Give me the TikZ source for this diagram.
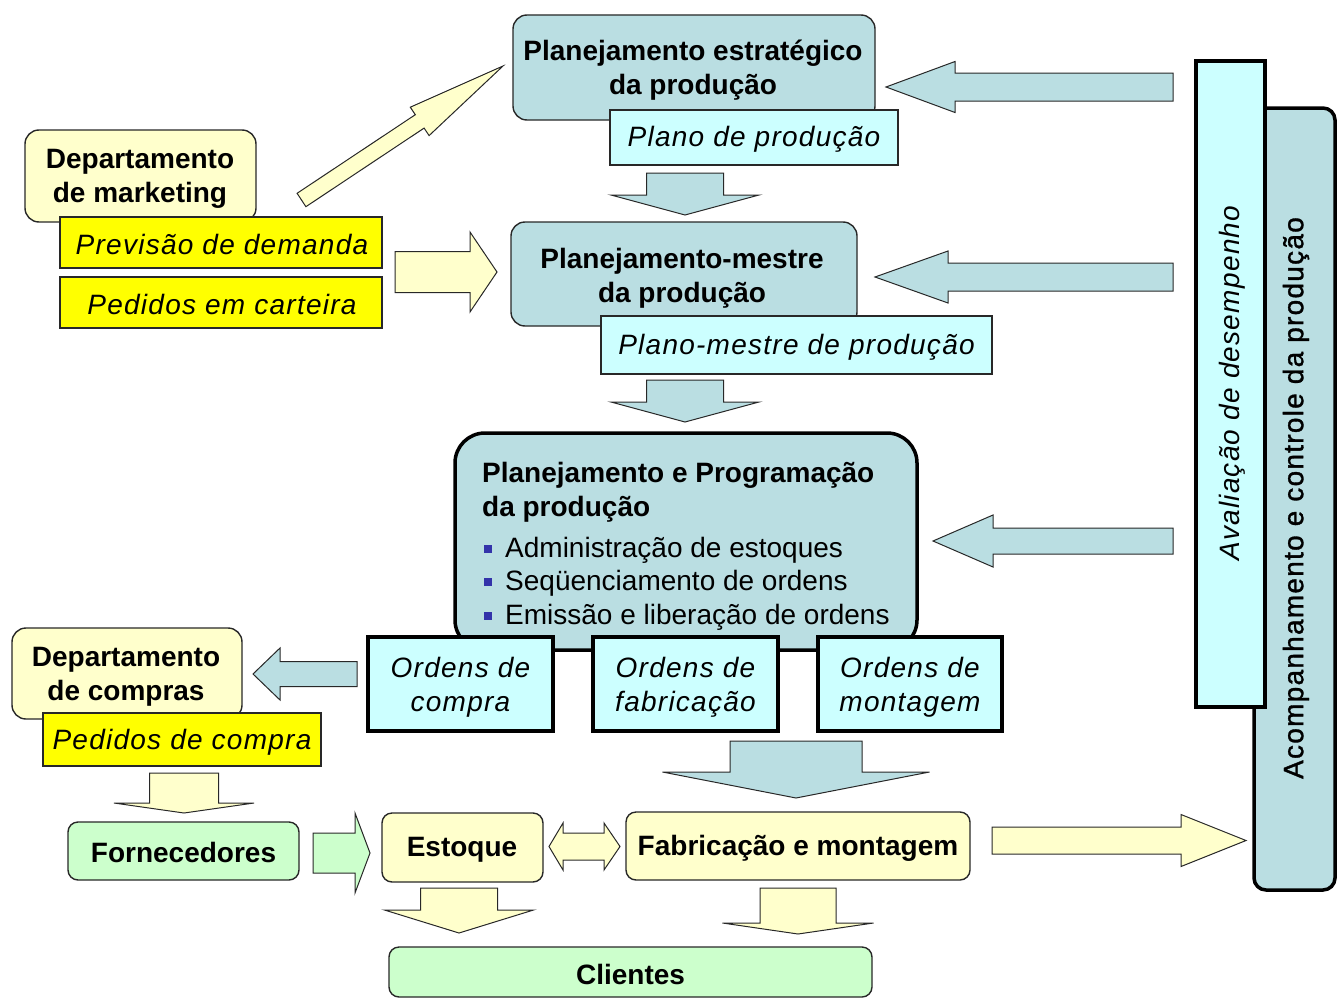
\documentclass[tikz,border=0pt]{standalone}
\usepackage{fontspec}
\setmainfont{Liberation Sans}
\newfontfamily\spfont[LetterSpace=4.5]{Liberation Sans}
\newfontfamily\medfont[LetterSpace=4.5,FakeBold=1.2]{Liberation Sans}
\newcommand\itx{\spfont\itshape}
\definecolor{bluegray}{RGB}{186,222,226}
\definecolor{cyanbox}{RGB}{204,255,255}
\definecolor{lyellow}{RGB}{255,255,204}
\definecolor{yell}{RGB}{255,255,0}
\definecolor{lgreen}{RGB}{204,255,204}
\definecolor{bulletc}{RGB}{51,51,170}
\definecolor{edge}{RGB}{40,40,40}
\newcommand\myharrow[7]{\draw[#1] (#2,#5-#6) -- (#3,#5-#6) -- (#3,#5-#7) -- (#4,#5) -- (#3,#5+#7) -- (#3,#5+#6) -- (#2,#5+#6) -- cycle;}
\newcommand\myvarrow[7]{\draw[#1] (#5-#6,#2) -- (#5-#6,#3) -- (#5-#7,#3) -- (#5,#4) -- (#5+#7,#3) -- (#5+#6,#3) -- (#5+#6,#2) -- cycle;}
\tikzset{
  thinbox/.style={draw=edge, line width=1.4pt, inner sep=0pt, align=center},
  thickbox/.style={draw=black, line width=3.5pt, inner sep=0pt, align=center},
  rbox/.style={thinbox, rounded corners=14pt},
  barrow/.style={draw=edge, line width=1pt, fill=bluegray, line join=miter},
  yarrow/.style={draw=edge, line width=1pt, fill=lyellow, line join=miter},
  garrow/.style={draw=edge, line width=1pt, fill=lgreen, line join=miter},
  bul/.style={fill=bulletc, minimum size=8pt, inner sep=0pt},
  txt/.style={inner sep=0pt, anchor=base west},
  lbl/.style={inner sep=0pt, align=center},
}
\begin{document}
\begin{tikzpicture}[x=1pt,y=-1pt, font=\fontsize{28}{34}\selectfont]
\useasboundingbox (0,0) rectangle (1340,998);
\fill[white] (0,0) rectangle (1340,998);

% right side bars
\node[thickbox, fill=bluegray, rounded corners=12pt, rotate=90, minimum width=782pt, minimum height=81pt] (acomp) at (1294.5,499) {};
\node[lbl, rotate=90] (acompt) at (1296,498) {\medfont Acompanhamento e controle da produção};
\node[thickbox, fill=cyanbox, rotate=90, minimum width=646pt, minimum height=69pt] (aval) at (1230.5,384) {};
\node[lbl, rotate=90] (avalt) at (1232,383) {\itx Avaliação de desempenho};

% strategic planning
\node[rbox, fill=bluegray, minimum width=362pt, minimum height=105pt] (pe) at (694,67.5) {};
\node[lbl] (pet) at (693,70) {\bfseries Planejamento estratégico\\\bfseries da produção};
\node[thinbox, fill=cyanbox, minimum width=288pt, minimum height=55pt] (plano) at (754,137.5) {};
\node[lbl] (planot) at (754,139) {\itx Plano de produção};

% master planning
\node[rbox, fill=bluegray, minimum width=346pt, minimum height=104pt] (pm) at (684,274) {};
\node[lbl] (pmt) at (682,278) {\bfseries Planejamento-mestre\\\bfseries da produção};
\node[thinbox, fill=cyanbox, minimum width=391pt, minimum height=58pt] (planom) at (796.5,345) {};
\node[lbl] (planomt) at (796.5,347) {\itx Plano-mestre de produção};

% programming
\node[thickbox, fill=bluegray, rounded corners=30pt, minimum width=462pt, minimum height=217pt] (pp) at (686,541.5) {};
\node[txt] (ppt1) at (482,482) {\bfseries Planejamento e Programação};
\node[txt] (ppt2) at (482,516) {\bfseries da produção};
\node[bul] (bu1) at (488,549) {};
\node[bul] (bu2) at (488,582) {};
\node[bul] (bu3) at (488,616) {};
\node[txt] (b1) at (505,557) {Administração de estoques};
\node[txt] (b2) at (505,590) {Seqüenciamento de ordens};
\node[txt] (b3) at (505,624) {Emissão e liberação de ordens};

% orders
\node[thickbox, fill=cyanbox, minimum width=185pt, minimum height=94pt] (oc) at (460.5,684) {};
\node[lbl] (oct) at (460.5,687) {\itx Ordens de\\\itx compra};
\node[thickbox, fill=cyanbox, minimum width=185pt, minimum height=94pt] (of) at (685.5,684) {};
\node[lbl] (oft) at (685.5,687) {\itx Ordens de\\\itx fabricação};
\node[thickbox, fill=cyanbox, minimum width=184pt, minimum height=94pt] (om) at (910,684) {};
\node[lbl] (omt) at (910,687) {\itx Ordens de\\\itx montagem};

% marketing
\node[rbox, fill=lyellow, minimum width=231pt, minimum height=92pt] (dm) at (140.5,176) {};
\node[lbl] (dmt) at (140,179) {\bfseries Departamento\\\bfseries de marketing};
\node[thinbox, fill=yell, minimum width=322pt, minimum height=51pt] (prev) at (221,242.5) {};
\node[lbl] (prevt) at (222,244) {\itx Previsão de demanda};
\node[thinbox, fill=yell, minimum width=322pt, minimum height=51pt] (ped) at (221,302.5) {};
\node[lbl] (pedt) at (222,304) {\itx Pedidos em carteira};

% purchasing
\node[rbox, fill=lyellow, minimum width=230pt, minimum height=91pt] (dc) at (127,673.5) {};
\node[lbl] (dct) at (126,677) {\bfseries Departamento\\\bfseries de compras};
\node[thinbox, fill=yell, minimum width=278pt, minimum height=53pt] (pc) at (182,739.5) {};
\node[lbl] (pct) at (182,742) {\itx Pedidos de compra};

% bottom flow
\node[rbox, fill=lgreen, rounded corners=10pt, minimum width=231pt, minimum height=58pt] (forn) at (183.5,851) {};
\node[lbl] (fornt) at (183.5,852) {\bfseries Fornecedores};
\node[rbox, fill=lyellow, rounded corners=10pt, minimum width=161pt, minimum height=69pt] (est) at (462.5,847.5) {};
\node[lbl] (estt) at (462,850) {\bfseries Estoque};
\node[rbox, fill=lyellow, rounded corners=10pt, minimum width=344pt, minimum height=68pt] (fab) at (798,846) {};
\node[lbl] (fabt) at (798,848) {\bfseries Fabricação e montagem};
\node[rbox, fill=lgreen, rounded corners=10pt, minimum width=483pt, minimum height=50pt] (cli) at (630.5,972) {};
\node[lbl] (clit) at (630.5,974) {\bfseries Clientes};

% block arrows (blue-gray)
\myvarrow{barrow}{173}{195}{215}{685}{38.5}{74}
\myvarrow{barrow}{380}{402}{422}{685}{38.5}{74}
\myharrow{barrow}{1173}{955}{886}{87}{14}{25.5}
\myharrow{barrow}{1173}{948}{875}{277}{14}{26}
\myharrow{barrow}{1173}{993}{933}{541}{13}{26}
\myharrow{barrow}{357}{280}{253}{674}{12.5}{26}
\myvarrow{barrow}{741}{772}{798}{796}{66}{133.5}

% block arrows (light yellow)
\draw[yarrow] (297.1,193.3) -- (415.3,114.7) -- (410.3,107.2) -- (503,66) -- (429.1,135.6) -- (424.1,128.1) -- (305.9,206.7) -- cycle;
\myharrow{yarrow}{395}{470}{497}{272}{20.5}{40}
\myvarrow{yarrow}{773}{803}{813}{184}{34.5}{70}
\draw[yarrow] (549,846.5) -- (563,823) -- (563,833) -- (604,833) -- (604,823) -- (620,846.5) -- (604,870) -- (604,860) -- (563,860) -- (563,870) -- cycle;
\myvarrow{yarrow}{888}{910}{933}{459}{38.5}{74.5}
\myvarrow{yarrow}{888}{923}{934}{798}{38}{75.5}
\myharrow{yarrow}{992}{1181}{1246}{840.5}{13.5}{26}

% green arrow
\myharrow{garrow}{313}{355}{370}{853}{20}{40}
\end{tikzpicture}
\end{document}
